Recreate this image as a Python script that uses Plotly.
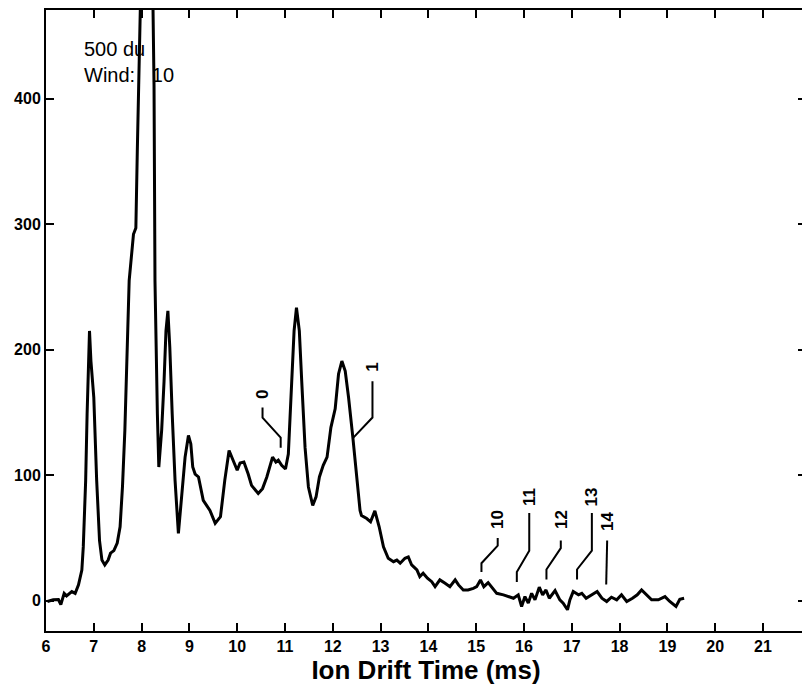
import plotly.graph_objects as go

# drift spectrum
drift_ms = [
    6.03, 6.15, 6.26, 6.31, 6.38, 6.43, 6.54, 6.61, 6.68, 6.75, 6.78, 6.83, 6.86, 6.91, 6.94,
    7.00, 7.06, 7.12, 7.17, 7.23, 7.30, 7.35, 7.42, 7.49, 7.55, 7.60, 7.65, 7.70, 7.74, 7.83,
    7.88, 7.91, 7.95, 8.02, 8.10, 8.18, 8.26, 8.28, 8.30, 8.33, 8.36, 8.42, 8.47, 8.51, 8.55,
    8.59, 8.64, 8.70, 8.77, 8.84, 8.91, 8.98, 9.03, 9.07, 9.12, 9.19, 9.29, 9.43, 9.54, 9.65,
    9.74, 9.83, 9.92, 10.00, 10.06, 10.14, 10.23, 10.30, 10.44, 10.53, 10.62, 10.74, 10.81,
    10.86, 10.93, 11.01, 11.07, 11.14, 11.19, 11.24, 11.30, 11.35, 11.42, 11.49, 11.58, 11.65,
    11.72, 11.80, 11.88, 11.96, 12.05, 12.12, 12.19, 12.26, 12.33, 12.42, 12.50, 12.57, 12.60,
    12.71, 12.79, 12.88, 12.97, 13.06, 13.16, 13.27, 13.34, 13.41, 13.51, 13.58, 13.65, 13.76,
    13.82, 13.89, 13.98, 14.07, 14.14, 14.24, 14.35, 14.45, 14.56, 14.63, 14.73, 14.83, 14.94,
    15.01, 15.09, 15.16, 15.25, 15.35, 15.43, 15.57, 15.67, 15.78, 15.88, 15.95, 16.02, 16.09,
    16.16, 16.23, 16.32, 16.39, 16.46, 16.53, 16.65, 16.75, 16.82, 16.91, 16.96, 17.03, 17.14,
    17.21, 17.30, 17.42, 17.53, 17.63, 17.73, 17.83, 17.94, 18.04, 18.15, 18.27, 18.37, 18.46,
    18.57, 18.67, 18.81, 18.95, 19.05, 19.18, 19.26, 19.35,
]
intensity = [
    -0.5, 0.8, 1, -3, 6, 4, 7.4, 6, 12.7, 24.6, 43, 96, 149, 215, 191,
    162, 96, 48, 32.5, 28.6, 32.5, 38, 40, 46, 59, 91, 136, 202, 255, 292,
    297, 358, 451, 620, 700, 640, 411, 255, 202, 149, 106.6, 136, 175, 215, 231,
    202, 149, 96, 53.7, 82.8, 114.5, 131.7, 125, 106.6, 101, 98.7, 80, 72, 61.7, 67,
    96, 119.8, 110.6, 104, 109.8, 110.6, 101, 92, 85.5, 89.4, 98.7, 114.5, 110.6,
    112, 108, 105, 117, 175, 215, 233.6, 215, 175, 122, 90.7, 76, 82.8,
    98.7, 108, 114.5, 138, 153, 180.7, 191, 183, 162, 130, 96, 72, 68,
    65.6, 63, 71.7, 59, 43, 33.9, 31.2, 32.5, 30, 33.9, 35, 28.6, 24.6,
    19.3, 22, 18, 15.3, 11.3, 16.7, 14, 11.3, 16.7, 12.7, 8.7, 8.7, 10,
    11.3, 16.7, 11.3, 14.5, 10, 6, 4.8, 3.4, 2.1, 4.8, -4.5, 3.4, -1.8,
    6, 0.8, 10.9, 4.8, 8.7, 2.1, 8.2, 0.8, -1.8, -7.1, 0.8, 7.4, 4.8,
    6, 2.1, 4.8, 7.4, 2.1, -0.5, 2.9, 0.8, 4.8, -0.5, 2.1, 4.8, 8.7,
    4.8, 0.8, 0.8, 3.4, -0.5, -4.5, 1.3, 2.1,
]

# peak labels with their leader lines
peak_labels = ["0", "1", "10", "11", "12", "13", "14"]
label_x = [10.54, 12.83, 15.45, 16.11, 16.79, 17.42, 17.76]
label_y = [164, 186, 65, 83, 65, 83, 63]
leader_x = [
    [10.91, 10.91, 10.53, 10.53],
    [12.43, 12.83, 12.83],
    [15.11, 15.11, 15.45, 15.45],
    [15.85, 15.85, 16.11, 16.11],
    [16.47, 16.47, 16.77, 16.77],
    [17.11, 17.11, 17.42, 17.42],
    [17.72, 17.74],
]
leader_y = [
    [122, 130, 146, 154],
    [130, 146, 175],
    [23, 30, 44, 50],
    [15, 23, 40, 70],
    [17, 25, 42, 48],
    [17, 25, 40, 70],
    [13, 48],
]

fig = go.Figure()

fig.add_trace(go.Scatter(
    x=drift_ms, y=intensity, mode="lines",
    line=dict(color="black", width=3), showlegend=False
))

for lx, ly in zip(leader_x, leader_y):
    fig.add_trace(go.Scatter(
        x=lx, y=ly, mode="lines",
        line=dict(color="black", width=2), showlegend=False
    ))

for txt, x, y in zip(peak_labels, label_x, label_y):
    fig.add_annotation(
        x=x, y=y, text=txt, showarrow=False, textangle=-90,
        font=dict(family="Arial", size=17, color="black", weight="bold")
    )

fig.add_annotation(
    x=6.75, y=450, xanchor="left", yanchor="top", align="left",
    text="500 du<br>Wind:&nbsp;&nbsp;&nbsp;10", showarrow=False,
    font=dict(family="Arial", size=20, color="black")
)

axis_style = dict(
    showline=True, linecolor="black", linewidth=2, mirror="ticks",
    ticks="inside", ticklen=8, tickwidth=2, tickcolor="black",
    showgrid=False, zeroline=False,
    tickfont=dict(family="Arial", size=16, color="black", weight="bold"),
)

fig.update_xaxes(
    range=[6, 21.9], tick0=6, dtick=1,
    title=dict(text="Ion Drift Time (ms)", standoff=7,
               font=dict(family="Arial", size=26, color="black", weight="bold")),
    **axis_style
)
fig.update_yaxes(range=[-24, 470.6], tickvals=[0, 100, 200, 300, 400], **axis_style)

# page body adds 8px, so the figure is a bit smaller than the window
fig.update_layout(
    width=802, height=682,
    margin=dict(l=38, r=4, t=0, b=59),
    plot_bgcolor="white", paper_bgcolor="white",
)

fig.write_html("out.html")
